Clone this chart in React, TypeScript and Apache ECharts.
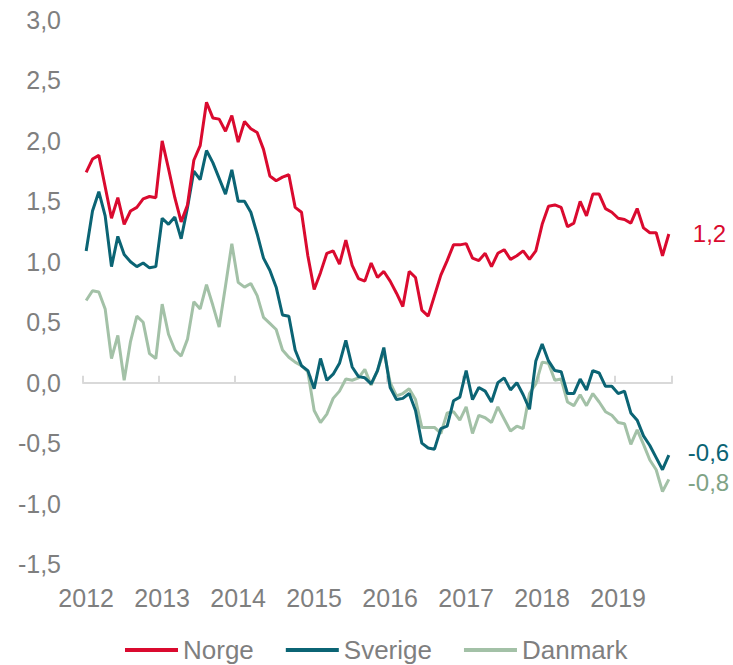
import React, { useEffect, useRef } from "react";
import * as echarts from "echarts";

const years = [2012, 2013, 2014, 2015, 2016, 2017, 2018, 2019];
const lastYearMonths = 9;

const norge = [
  1.74, 1.85, 1.88, 1.62, 1.36, 1.53, 1.31, 1.42, 1.45, 1.52, 1.54, 1.53,
  2.0, 1.77, 1.53, 1.33, 1.47, 1.84, 1.96, 2.32, 2.19, 2.18, 2.08, 2.21,
  1.99, 2.16, 2.1, 2.07, 1.93, 1.71, 1.67, 1.7, 1.72, 1.45, 1.41, 1.05,
  0.77, 0.91, 1.07, 1.09, 0.98, 1.18, 0.97, 0.86, 0.84, 0.99, 0.87, 0.92,
  0.84, 0.74, 0.63, 0.92, 0.87, 0.6, 0.55, 0.72, 0.89, 1.01, 1.14, 1.14,
  1.15, 1.03, 1.01, 1.07, 0.96, 1.07, 1.1, 1.02, 1.05, 1.09, 1.02, 1.09,
  1.31, 1.46, 1.47, 1.45, 1.29, 1.32, 1.5, 1.38, 1.56, 1.56, 1.44, 1.41,
  1.36, 1.35, 1.32, 1.44, 1.28, 1.24, 1.24, 1.05, 1.23,
];

const sverige = [
  1.09, 1.42, 1.58, 1.38, 0.96, 1.21, 1.06, 1.0, 0.96, 0.99, 0.95, 0.96,
  1.36, 1.31, 1.37, 1.19, 1.45, 1.75, 1.68, 1.92, 1.82, 1.69, 1.56, 1.76,
  1.5, 1.5, 1.41, 1.23, 1.03, 0.93, 0.79, 0.56, 0.55, 0.27, 0.14, 0.1,
  -0.05, 0.2, 0.02, 0.07, 0.16, 0.35, 0.13, 0.05, 0.04, -0.01, 0.1, 0.29,
  -0.04, -0.14, -0.13, -0.09, -0.23, -0.5, -0.54, -0.55, -0.38, -0.36, -0.15, -0.12,
  0.1, -0.14, -0.04, -0.07, -0.16, 0.0, 0.04, -0.06, 0.0, -0.1, -0.22, 0.18,
  0.32, 0.18, 0.1, 0.09, -0.09, -0.09, 0.03, -0.06, 0.1, 0.08, -0.03, -0.03,
  -0.09, -0.07, -0.25, -0.31, -0.44, -0.52, -0.62, -0.72, -0.6,
];

const danmark = [
  0.68, 0.76, 0.75, 0.61, 0.2, 0.39, 0.02, 0.34, 0.55, 0.5, 0.24, 0.2,
  0.65, 0.4, 0.27, 0.22, 0.36, 0.67, 0.61, 0.81, 0.64, 0.46, 0.8, 1.15,
  0.83, 0.79, 0.82, 0.72, 0.54, 0.49, 0.44, 0.27, 0.21, 0.17, 0.14, 0.09,
  -0.23, -0.33, -0.26, -0.13, -0.07, 0.03, 0.02, 0.04, 0.11, -0.02, 0.1, 0.26,
  0.0, -0.11, -0.09, -0.05, -0.14, -0.37, -0.37, -0.37, -0.42, -0.25, -0.24, -0.31,
  -0.2, -0.42, -0.27, -0.29, -0.33, -0.2, -0.3, -0.4, -0.36, -0.38, -0.09, -0.01,
  0.17, 0.16, 0.02, 0.03, -0.16, -0.19, -0.1, -0.19, -0.09, -0.16, -0.24, -0.27,
  -0.33, -0.34, -0.51, -0.39, -0.51, -0.64, -0.72, -0.9, -0.8,
];

const seriesNames = ["Norge", "Sverige", "Danmark"];
const yTicks = { min: -1.5, max: 3.0, interval: 0.5 };

const months: string[] = [];
years.forEach((y, yi) => {
  const n = yi === years.length - 1 ? lastYearMonths : 12;
  for (let m = 1; m <= n; m++) months.push(`${y}-${String(m).padStart(2, "0")}`);
});

const FONT = "'Liberation Sans', Arial, sans-serif";
const GRAY = "#7F7F7F";
const fmt = (v: number) => Number(v).toFixed(1).replace(".", ",");

export default function App() {
  const ref = useRef<HTMLDivElement>(null);
  useEffect(() => {
    if (!ref.current) return;
    const chart = echarts.init(ref.current, undefined, { renderer: "svg" });
    const colors = ["#DA0A2F", "#0B6474", "#A3C1A7"];
    const labelColors = ["#DA0A2F", "#0B6474", "#7FA386"];
    const distances = [24, 19, 19];
    const offsets = [[0, 0], [0, -3], [0, 3]];
    const datasets = [norge, sverige, danmark];
    chart.setOption({
      animation: false,
      textStyle: { fontFamily: FONT },
      grid: { left: 83, right: 61, top: 20, bottom: 101, containLabel: false },
      legend: {
        left: 120,
        top: 632,
        itemWidth: 53,
        itemHeight: 4,
        itemGap: 32,
        icon: "rect",
        textStyle: { color: GRAY, fontSize: 26, fontFamily: FONT },
        data: seriesNames,
      },
      xAxis: [
        {
          type: "category",
          data: months,
          position: "bottom",
          boundaryGap: true,
          axisLine: { show: false, onZero: false },
          axisTick: { show: false },
          axisLabel: {
            interval: 11,
            margin: 21,
            color: GRAY,
            fontSize: 25,
            fontFamily: FONT,
            formatter: (v: string) => v.slice(0, 4),
          },
          splitLine: { show: false },
        },
        {
          type: "category",
          data: months,
          position: "top",
          boundaryGap: true,
          axisLine: { show: true, onZero: true, lineStyle: { color: "#D9D9D9", width: 2 } },
          axisTick: { show: true, interval: 11, length: 7, lineStyle: { color: "#D9D9D9", width: 2 } },
          axisLabel: { show: false },
          splitLine: { show: false },
        },
      ],
      yAxis: {
        type: "value",
        min: yTicks.min,
        max: yTicks.max,
        interval: yTicks.interval,
        axisLine: { show: false },
        axisTick: { show: false },
        splitLine: { show: false },
        axisLabel: {
          margin: 22,
          color: GRAY,
          fontSize: 25,
          fontFamily: FONT,
          formatter: (v: number) => fmt(v),
        },
      },
      series: seriesNames.map((name, i) => ({
        name,
        type: "line",
        xAxisIndex: 0,
        data: datasets[i],
        symbol: "none",
        color: colors[i],
        lineStyle: { width: 3, color: colors[i] },
        itemStyle: { color: colors[i] },
        z: 3 - i,
        endLabel: {
          show: true,
          distance: distances[i],
          offset: offsets[i],
          color: labelColors[i],
          fontSize: 24,
          lineHeight: 24,
          fontFamily: FONT,
          formatter: (p: any) => fmt(Array.isArray(p.value) ? p.value[1] : p.value),
        },
      })),
    });
    return () => chart.dispose();
  }, []);
  return (
    <div
      ref={ref}
      style={{ position: "fixed", left: 0, top: 0, width: 733, height: 665, background: "#fff" }}
    />
  );
}
